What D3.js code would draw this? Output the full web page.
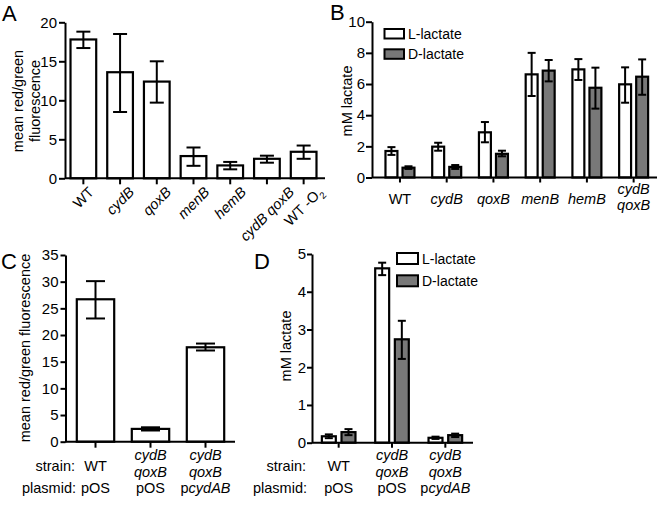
<!DOCTYPE html>
<html><head><meta charset="utf-8">
<script src="https://cdn.jsdelivr.net/npm/d3@7"></script>
<style>
body{margin:0;background:#fff}
svg{font-family:"Liberation Sans",Arial,Helvetica,sans-serif}
</style></head><body>
<svg id="c" width="660" height="506"></svg>
<script>
// ---------------- DATA ----------------
// Panel A
const catsA  = ["WT","cydB","qoxB","menB","hemB","cydB qoxB","WT -O2"];
const meanA  = [17.8,13.6,12.4,2.85,1.65,2.5,3.4];
const lowA   = [16.7,8.5,9.7,1.6,1.15,2.0,2.5];
const highA  = [18.8,18.5,15.0,3.95,2.1,2.9,4.2];
const ticksA = [0,5,10,15,20];

// Panel B
const groupsB = ["WT","cydB","qoxB","menB","hemB","cydB qoxB"];
const seriesB = ["L-lactate","D-lactate"];
const meanBL  = [1.7,1.98,2.9,6.62,6.94,5.98];
const lowBL   = [1.45,1.72,2.26,5.23,6.26,4.8];
const highBL  = [1.95,2.23,3.56,8.0,7.6,7.07];
const meanBD  = [0.63,0.68,1.52,6.86,5.76,6.47];
const lowBD   = [0.55,0.55,1.36,6.17,4.42,5.31];
const highBD  = [0.72,0.8,1.72,7.54,7.05,7.58];
const ticksB  = [0,2,4,6,8,10];

// Panel C
const strainsC  = ["WT","cydB qoxB","cydB qoxB"];
const plasmidsC = ["pOS","pOS","pcydAB"];
const meanC  = [26.7,2.4,17.7];
const lowC   = [23.1,2.1,17.1];
const highC  = [30.1,2.7,18.4];
const ticksC = [0,5,10,15,20,25,30,35];

// Panel D
const strainsD  = ["WT","cydB qoxB","cydB qoxB"];
const plasmidsD = ["pOS","pOS","pcydAB"];
const meanDL = [0.17,4.62,0.13];
const lowDL  = [0.12,4.44,0.1];
const highDL = [0.22,4.77,0.16];
const meanDD = [0.28,2.74,0.2];
const lowDD  = [0.2,2.22,0.15];
const highDD = [0.36,3.23,0.24];
const ticksD = [0,1,2,3,4,5];

// ---------------- HELPERS ----------------
const svg = d3.select("#c");
const FS = 14.5;
const GREY = "#787878";

function rich(text, label) {
  const toks = label.split(" ");
  toks.forEach((t, i) => {
    if (i > 0) text.append("tspan").text(" ");
    if (t === "-O2") {
      text.append("tspan").text("-O");
      text.append("tspan").attr("font-size", 9.5).attr("dy", 4).text("2");
    } else if (/^(cyd|qox|men|hem)/.test(t)) {
      text.append("tspan").attr("font-style", "italic").text(t);
    } else if (/^pcyd/.test(t)) {
      text.append("tspan").text("p");
      text.append("tspan").attr("font-style", "italic").text(t.slice(1));
    } else {
      text.append("tspan").text(t);
    }
  });
}

function yAxis(x, y, ticks, size, pad) {
  const g = svg.append("g").attr("transform", `translate(${x},0)`)
    .call(d3.axisLeft(y).tickValues(ticks).tickFormat(d3.format("d"))
      .tickSize(size).tickPadding(pad).tickSizeOuter(0));
  g.attr("font-size", 15).attr("font-family", null);
  g.select(".domain").attr("stroke-width", 2);
  g.selectAll(".tick line").attr("stroke-width", 2);
  g.selectAll(".tick text").attr("fill", "#000");
  return g;
}

function xAxis(yPos, x, x0, x1, size) {
  const g = svg.append("g").attr("transform", `translate(0,${yPos})`)
    .call(d3.axisBottom(x).tickSize(size).tickSizeOuter(0).tickFormat(""));
  g.select(".domain").attr("d", `M${x0},0H${x1}`).attr("stroke-width", 2);
  g.selectAll(".tick line").attr("stroke-width", 2);
  return g;
}

function bar(cx, w, y, v, fill) {
  svg.append("rect")
    .attr("x", cx - w / 2).attr("width", w)
    .attr("y", y(v)).attr("height", y(0) - y(v))
    .attr("fill", fill).attr("stroke", "#000").attr("stroke-width", 2.2);
}

function errBar(cx, y, lo, hi, cap) {
  const g = svg.append("g").attr("stroke", "#000").attr("stroke-width", 2);
  g.append("line").attr("x1", cx).attr("x2", cx).attr("y1", y(lo)).attr("y2", y(hi));
  g.append("line").attr("x1", cx - cap / 2).attr("x2", cx + cap / 2).attr("y1", y(lo)).attr("y2", y(lo));
  g.append("line").attr("x1", cx - cap / 2).attr("x2", cx + cap / 2).attr("y1", y(hi)).attr("y2", y(hi));
}

function yTitle(lines, x, yc, lh) {
  lines.forEach((l, i) => {
    svg.append("text")
      .attr("transform", `translate(${x + i * lh},${yc}) rotate(-90)`)
      .attr("text-anchor", "middle").attr("font-size", 14.5).text(l);
  });
}

function panelLetter(t, x, y) {
  svg.append("text").attr("x", x).attr("y", y).attr("font-size", 22).text(t);
}

function legend(x, y, gap, w, h) {
  seriesB.forEach((s, i) => {
    svg.append("rect").attr("x", x).attr("y", y + i * gap).attr("width", w).attr("height", h)
      .attr("fill", i ? GREY : "#fff").attr("stroke", "#000").attr("stroke-width", 2);
    svg.append("text").attr("x", x + w + 4).attr("y", y + i * gap + h / 2 + 5)
      .attr("font-size", 14).text(s);
  });
}

function twoLine(cx, label, ySingle, yTop, yBot) {
  const parts = label.split(" ");
  if (parts.length === 2 && parts[0] !== "WT") {
    rich(svg.append("text").attr("x", cx).attr("y", yTop).attr("text-anchor", "middle").attr("font-size", FS), parts[0]);
    rich(svg.append("text").attr("x", cx).attr("y", yBot).attr("text-anchor", "middle").attr("font-size", FS), parts[1]);
  } else {
    rich(svg.append("text").attr("x", cx).attr("y", ySingle).attr("text-anchor", "middle").attr("font-size", FS), label);
  }
}

// ---------------- PANEL A ----------------
{
  const y = d3.scaleLinear().domain([0, 20]).range([178.3, 22.3]);
  const x = d3.scaleBand().domain(catsA).range([65, 322]).paddingInner(0.3).paddingOuter(0.15);
  catsA.forEach((c, i) => bar(x(c) + x.bandwidth() / 2, x.bandwidth(), y, meanA[i], "#fff"));
  catsA.forEach((c, i) => errBar(x(c) + x.bandwidth() / 2, y, lowA[i], highA[i], 14));
  xAxis(y(0), x, 65, 325, 6);
  yAxis(65, y, ticksA, 6, 2);
  catsA.forEach(c => {
    const cx = x(c) + x.bandwidth() / 2;
    const t = svg.append("text").attr("font-size", FS).attr("text-anchor", "end");
    rich(t, c);
    const L = t.node().getComputedTextLength();
    const ax = cx + 0.707 * (L + 10) / 2;
    t.attr("transform", `translate(${ax},193) rotate(-45)`);
  });
  yTitle(["mean red/green", "fluorescence"], 23, 101, 16.5);
  panelLetter("A", 2, 21);
}

// ---------------- PANEL B ----------------
{
  const y = d3.scaleLinear().domain([0, 10]).range([177.5, 21.7]);
  const x0 = d3.scaleBand().domain(groupsB).range([376.6, 657]).paddingInner(0.38).paddingOuter(0.19);
  const x1 = d3.scaleBand().domain(seriesB).range([0, x0.bandwidth()]).paddingInner(0.3);
  const sets = [[meanBL, lowBL, highBL, "#fff"], [meanBD, lowBD, highBD, GREY]];
  groupsB.forEach((g, i) => {
    seriesB.forEach((s, j) => {
      const cx = x0(g) + x1(s) + x1.bandwidth() / 2;
      bar(cx, x1.bandwidth(), y, sets[j][0][i], sets[j][3]);
    });
  });
  groupsB.forEach((g, i) => {
    seriesB.forEach((s, j) => {
      const cx = x0(g) + x1(s) + x1.bandwidth() / 2;
      errBar(cx, y, sets[j][1][i], sets[j][2][i], 8);
    });
  });
  xAxis(y(0), x0, 372, 657, 5);
  yAxis(372, y, ticksB, 6, 1);
  groupsB.forEach(g => twoLine(x0(g) + x0.bandwidth() / 2, g, 203.5, 194, 210));
  legend(384.5, 29, 20.3, 19.5, 9.5);
  yTitle(["mM lactate"], 351.5, 101, 0);
  panelLetter("B", 330, 20);
}

// ---------------- PANEL C ----------------
{
  const y = d3.scaleLinear().domain([0, 35]).range([441.7, 255]);
  const idx = [0, 1, 2];
  const x = d3.scaleBand().domain(idx).range([68, 233]).paddingInner(0.32).paddingOuter(0.16);
  idx.forEach(i => bar(x(i) + x.bandwidth() / 2, x.bandwidth(), y, meanC[i], "#fff"));
  idx.forEach(i => errBar(x(i) + x.bandwidth() / 2, y, lowC[i], highC[i], 19));
  xAxis(y(0), x, 65, 235, 6);
  yAxis(65.5, y, ticksC, 5, 2);
  svg.append("text").attr("x", 75).attr("y", 470.5).attr("text-anchor", "end").attr("font-size", FS).text("strain:");
  svg.append("text").attr("x", 76).attr("y", 493).attr("text-anchor", "end").attr("font-size", FS).text("plasmid:");
  idx.forEach(i => {
    const cx = x(i) + x.bandwidth() / 2;
    twoLine(cx, strainsC[i], 470.5, 460, 476.5);
    rich(svg.append("text").attr("x", cx).attr("y", 493).attr("text-anchor", "middle").attr("font-size", FS), plasmidsC[i]);
  });
  yTitle(["mean red/green fluorescence"], 30, 348, 0);
  panelLetter("C", 1, 269);
}

// ---------------- PANEL D ----------------
{
  const y = d3.scaleLinear().domain([0, 5]).range([442.7, 254]);
  const idx = [0, 1, 2];
  const x0 = d3.scaleBand().domain(idx).range([312, 472]).paddingInner(0.37).paddingOuter(0.185);
  const x1 = d3.scaleBand().domain(seriesB).range([0, x0.bandwidth()]).paddingInner(0.29);
  const sets = [[meanDL, lowDL, highDL, "#fff"], [meanDD, lowDD, highDD, GREY]];
  idx.forEach(i => seriesB.forEach((s, j) => {
    bar(x0(i) + x1(s) + x1.bandwidth() / 2, x1.bandwidth(), y, sets[j][0][i], sets[j][3]);
  }));
  idx.forEach(i => seriesB.forEach((s, j) => {
    errBar(x0(i) + x1(s) + x1.bandwidth() / 2, y, sets[j][1][i], sets[j][2][i], 8);
  }));
  xAxis(y(0), x0, 312, 473, 5);
  yAxis(312, y, ticksD, 5, 1);
  svg.append("text").attr("x", 306).attr("y", 470.5).attr("text-anchor", "end").attr("font-size", FS).text("strain:");
  svg.append("text").attr("x", 307).attr("y", 493).attr("text-anchor", "end").attr("font-size", FS).text("plasmid:");
  idx.forEach(i => {
    const cx = x0(i) + x0.bandwidth() / 2;
    twoLine(cx, strainsD[i], 470.5, 460, 476.5);
    rich(svg.append("text").attr("x", cx).attr("y", 493).attr("text-anchor", "middle").attr("font-size", FS), plasmidsD[i]);
  });
  legend(397, 253, 22.3, 21, 11);
  yTitle(["mM lactate"], 291, 346, 0);
  panelLetter("D", 254, 269);
}
</script>
</body></html>
